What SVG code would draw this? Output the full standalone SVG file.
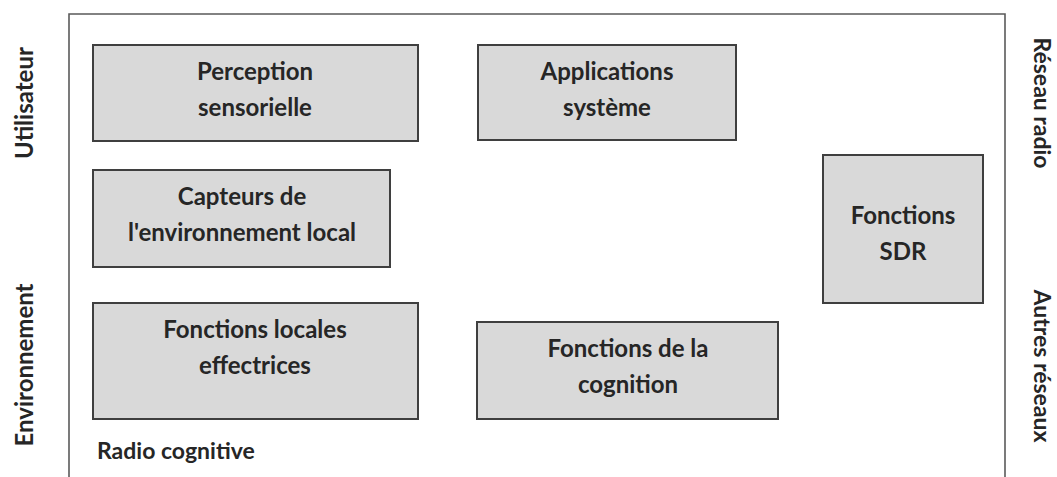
<svg xmlns="http://www.w3.org/2000/svg" width="1057" height="477" viewBox="0 0 1057 477">
  <style>
    .box { fill: #d9d9d9; stroke: #3f3f3f; stroke-width: 2; }
    .frame { fill: none; stroke: #5a5a5a; stroke-width: 1.6; }
    text { font-family: Lato, "Open Sans", "Liberation Sans", sans-serif; font-weight: bold; fill: #262626; }
    .lbl { font-size: 24px; text-anchor: middle; }
    .side { font-size: 24px; text-anchor: middle; }
    .side-r { font-size: 23px; text-anchor: middle; }
  </style>
  <rect width="1057" height="477" fill="#ffffff"/>

  <!-- outer frame (open at the bottom) -->
  <g id="frame">
    <path class="frame" d="M69,477 V14 H1005 V477"/>
    <text x="97" y="459" style="font-size:23px">Radio cognitive</text>
  </g>

  <g id="perception">
    <rect class="box" x="93" y="45" width="325" height="96"/>
    <text class="lbl" x="255" y="80">Perception</text>
    <text class="lbl" x="255" y="116">sensorielle</text>
  </g>
  <g id="applications">
    <rect class="box" x="478" y="45" width="258" height="95"/>
    <text class="lbl" x="607" y="80">Applications</text>
    <text class="lbl" x="607" y="116">système</text>
  </g>
  <g id="capteurs">
    <rect class="box" x="93" y="170" width="297" height="97"/>
    <text class="lbl" x="242" y="205">Capteurs de</text>
    <text class="lbl" x="242" y="241">l'environnement local</text>
  </g>
  <g id="fonctions-locales">
    <rect class="box" x="93" y="303" width="325" height="116"/>
    <text class="lbl" x="255" y="338">Fonctions locales</text>
    <text class="lbl" x="255" y="374">effectrices</text>
  </g>
  <g id="cognition">
    <rect class="box" x="477" y="322" width="301" height="97"/>
    <text class="lbl" x="628" y="357">Fonctions de la</text>
    <text class="lbl" x="628" y="393">cognition</text>
  </g>
  <g id="sdr">
    <rect class="box" x="823" y="155" width="160" height="148"/>
    <text class="lbl" x="903" y="224">Fonctions</text>
    <text class="lbl" x="903" y="260">SDR</text>
  </g>

  <!-- side labels -->
  <g id="side-left">
    <text class="side" transform="translate(33,103) rotate(-90)">Utilisateur</text>
    <text class="side" transform="translate(33,365) rotate(-90)">Environnement</text>
  </g>
  <g id="side-right">
    <text class="side-r" transform="translate(1034,103) rotate(90)">Réseau radio</text>
    <text class="side-r" transform="translate(1034,366) rotate(90)">Autres réseaux</text>
  </g>

  <g id="connectors"></g>
</svg>
